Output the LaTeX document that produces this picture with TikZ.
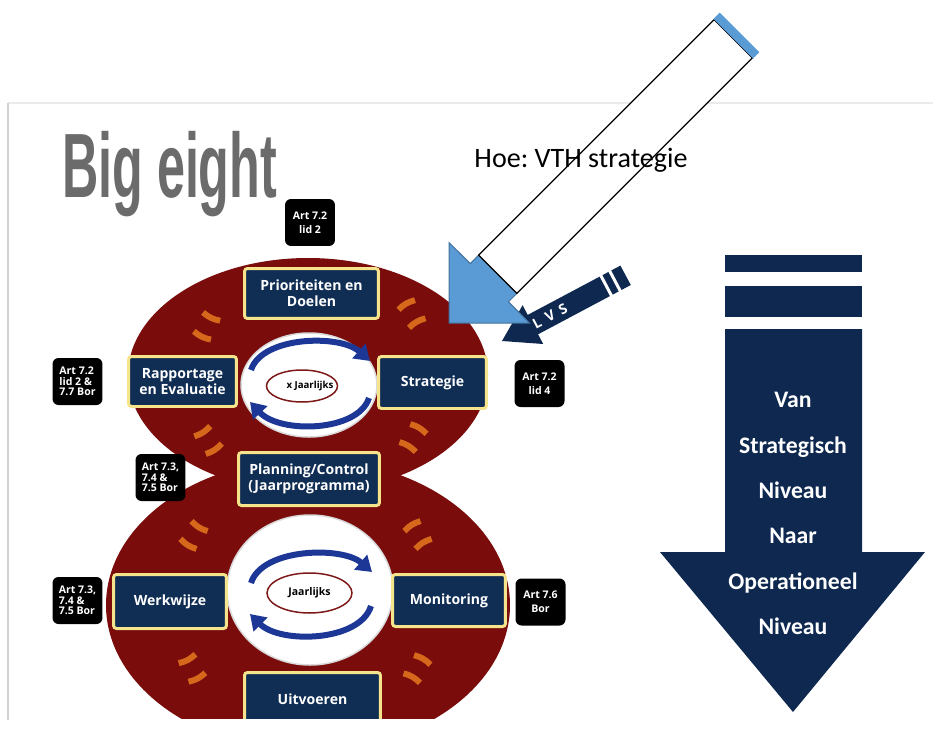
\documentclass[tikz,border=0pt]{standalone}
\usepackage{fontspec}
\usetikzlibrary{arrows.meta,shapes.geometric}
\newfontfamily\boxfont{Open Sans}
\newfontfamily\lvsfont[LetterSpace=45]{Open Sans}
\newfontfamily\calfont{Carlito}
\newfontfamily\titlefont{Liberation Sans}
\definecolor{eightred}{RGB}{122,12,12}
\definecolor{boxnavy}{RGB}{16,45,84}
\definecolor{boxrim}{RGB}{246,228,140}
\definecolor{arrownavy}{RGB}{14,40,80}
\definecolor{hoeblue}{RGB}{91,155,213}
\definecolor{hoeedge}{RGB}{65,113,156}
\definecolor{cycblue}{RGB}{28,55,150}
\definecolor{tickorange}{RGB}{214,104,28}
\definecolor{ringred}{RGB}{125,25,25}
\tikzset{
  stepbox/.style={draw=boxrim, fill=boxnavy, line width=0.06cm, rounded corners=0.06cm,
    text=white, align=center, inner sep=0pt,
    font=\boxfont\bfseries\fontsize{8}{9}\selectfont},
  artlabel/.style={fill=black, rounded corners=0.12cm, text=white, align=center,
    minimum width=1.0cm, minimum height=0.94cm, inner sep=0pt,
    font=\boxfont\bfseries\fontsize{6}{8}\selectfont},
  artlabel3/.style={artlabel, align=left, font=\boxfont\bfseries\fontsize{6}{6}\selectfont},
  hole/.style={fill=white, draw=black!15, line width=0.03cm},
  yearring/.style={draw=ringred, fill=white, line width=0.03cm, inner sep=0pt,
    font=\boxfont\bfseries\fontsize{6}{7}\selectfont},
  cyclearrow/.style={draw=cycblue, line width=0.12cm, -{Triangle[length=0.3cm, width=0.38cm]}},
  flowtick/.style={draw=tickorange, line width=0.12cm}
}
\begin{document}
\begin{tikzpicture}[x=0.02cm, y=-0.02cm]
    \useasboundingbox (0,0) rectangle (933,730);
    \draw[black!8, line width=0.03cm] (8,103) -- (933,103);
    \draw[black!18, line width=0.05cm] (8,103) -- (8,720);
    \node[anchor=base west, inner sep=0pt, xscale=0.55, text=black!58,
      font=\titlefont\bfseries\fontsize{52}{52}\selectfont] (title) at (62,197) {Big eight};
    \begin{scope}
        \clip (0,0) rectangle (933,718);
        \fill[eightred] (308,375) ellipse [x radius=180, y radius=117];
        \fill[eightred] (308,605) ellipse [x radius=202, y radius=146];
        \draw[hole] (309,385) ellipse [x radius=68, y radius=52];
        \draw[hole] (310,590) ellipse [x radius=83, y radius=75];
        \foreach \mx/\my/\ma in {207/326/154, 412/314/30, 208/440/213, 413/438/-31,
                                 194/535/148, 418/535/32, 192/668/208, 417/669/-30}{
            \begin{scope}[shift={(\mx,\my)}, rotate=\ma]
                \draw[flowtick] (-0.19cm,0.21cm) to[bend left=15] (0.19cm,0.21cm);
                \draw[flowtick] (-0.19cm,-0.21cm) to[bend left=15] (0.19cm,-0.21cm);
            \end{scope}
        }
        \draw[cyclearrow] (251,370) .. controls (262,336) and (340,334) .. (370,361);
        \draw[cyclearrow] (369,398) .. controls (358,432) and (280,434) .. (250,402);
        \draw[cyclearrow] (251,583) .. controls (262,548) and (342,546) .. (372,572);
        \draw[cyclearrow] (371,606) .. controls (360,642) and (280,644) .. (250,614);
        \node[yearring, ellipse, minimum width=1.42cm, minimum height=0.64cm] (xyear) at (302,386) {};
        \node[font=\boxfont\bfseries\fontsize{5.5}{7}\selectfont] (xyeartext) at (310,386) {x Jaarlijks};
        \node[yearring, ellipse, minimum width=1.7cm, minimum height=0.8cm] (year) at (309.5,593) {Jaarlijks};
        \node[stepbox, minimum width=2.72cm, minimum height=1.06cm] (uitv) at (312.5,699) {Uitvoeren};
    \end{scope}
    \node[stepbox, minimum width=2.68cm, minimum height=1.0cm] (prio) at (311.5,293.5) {Prioriteiten en\\Doelen};
    \node[stepbox, minimum width=2.16cm, minimum height=1.0cm] (rapp) at (182.5,381.5) {Rapportage\\en Evaluatie};
    \node[stepbox, minimum width=2.16cm, minimum height=1.04cm] (strat) at (432.5,382.5) {Strategie};
    \node[stepbox, minimum width=2.82cm, minimum height=1.06cm] (plan) at (309,479) {Planning/Control\\(Jaarprogramma)};
    \node[stepbox, minimum width=2.26cm, minimum height=1.08cm] (werk) at (170,601.5) {Werkwijze};
    \node[stepbox, minimum width=2.26cm, minimum height=1.04cm] (moni) at (449,600.5) {Monitoring};
    \node[artlabel] (artTop) at (310,222.5) {Art 7.2\\lid 2};
    \node[artlabel3] (artRapp) at (77.5,381.5) {Art 7.2\\lid 2 \&\\7.7 Bor};
    \node[artlabel] (artStrat) at (539.5,383.5) {Art 7.2\\lid 4};
    \node[artlabel3] (artPlan) at (160.5,477.5) {Art 7.3,\\7.4 \&\\7.5 Bor};
    \node[artlabel3] (artWerk) at (77.5,600.5) {Art 7.3,\\7.4 \&\\7.5 Bor};
    \node[artlabel] (artMoni) at (540.5,602) {Art 7.6\\Bor};
    \fill[arrownavy] (725,255) rectangle (862,271.5);
    \fill[arrownavy] (725,286) rectangle (862,316.5);
    \fill[arrownavy] (725,329) -- (862,329) -- (862,552) -- (925,552) -- (793,712) -- (660,552) -- (725,552) -- cycle;
    \node[text=white, align=center, font=\calfont\bfseries\fontsize{13.5}{25.8}\selectfont] (niveau) at (793,513.5)
        {Van\\Strategisch\\Niveau\\Naar\\Operationeel\\Niveau};
    \fill[arrownavy] (502,341) -- (522.6,305.2) -- (527.7,314.9) -- (620.4,265.6) -- (630.8,285) -- (538.1,334.3) -- (543.2,344) -- cycle;
    \draw[white, line width=0.06cm] (600.6,275.1) -- (611.8,296.3);
    \draw[white, line width=0.06cm] (609.4,270.4) -- (620.6,291.6);
    \node[text=white, rotate=28, font=\lvsfont\bfseries\fontsize{8}{9}\selectfont] (lvs) at (550,316) {LVS};
    \filldraw[fill=hoeblue, draw=hoeedge, line width=0.02cm] (449,323) -- (449,242.5) -- (470.2,263.6) -- (478.7,255.1)
        -- (516.9,293.3) -- (508.4,301.8) -- (529.5,323) -- cycle;
    \filldraw[fill=white, draw=black, line width=0.025cm] (478.7,255.1) -- (714.2,19.6) -- (752.4,57.8) -- (516.9,293.3) -- cycle;
    \fill[hoeblue] (713.5,18.9) -- (719.8,12.6) -- (759.4,52.2) -- (753.1,58.5) -- cycle;
    \node[anchor=base, font=\calfont\fontsize{16}{19}\selectfont] (hoe) at (581,167) {Hoe:\ VTH strategie};
\end{tikzpicture}
\end{document}
